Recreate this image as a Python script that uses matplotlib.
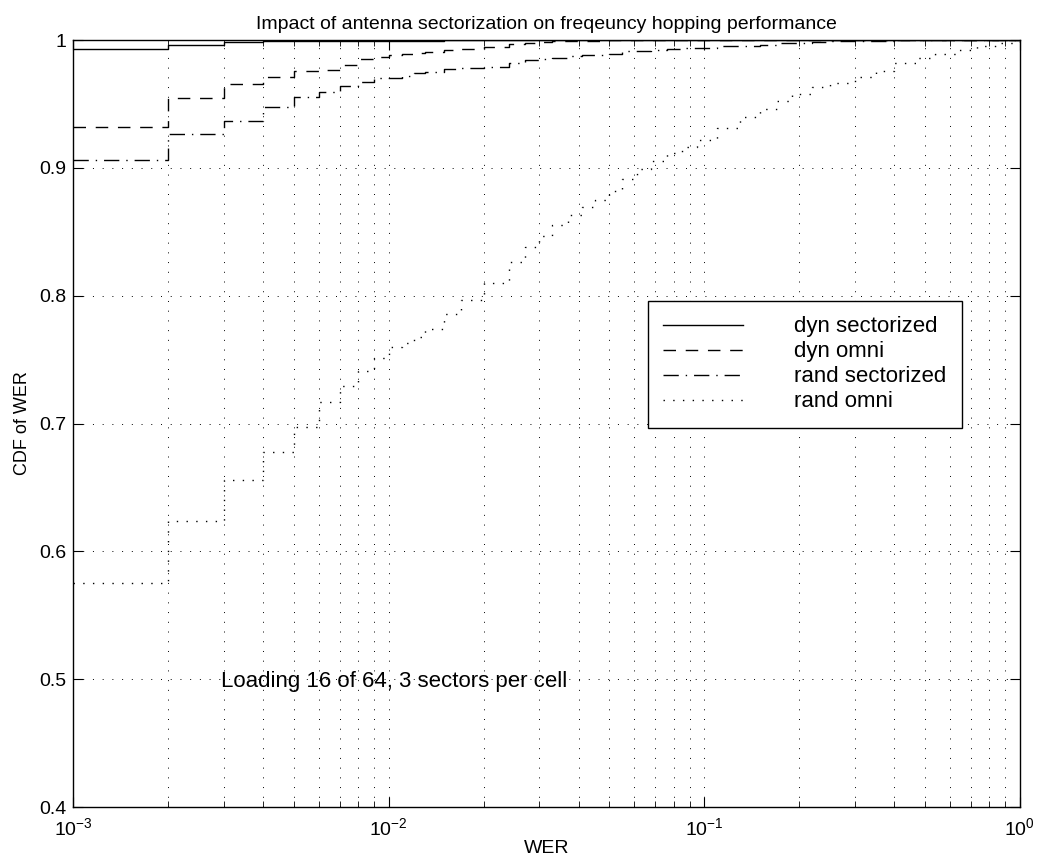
import math
import matplotlib
matplotlib.use('Agg')
import matplotlib.pyplot as plt
from matplotlib.ticker import LogLocator, FixedLocator, FuncFormatter, NullFormatter

plt.rcParams['font.family'] = ['Liberation Sans', 'DejaVu Sans']
plt.rcParams['mathtext.default'] = 'regular'

# WER grid where the CDF values were read
wer = [0.001, 0.002, 0.003, 0.004, 0.005, 0.006, 0.007, 0.008, 0.009,
       0.010, 0.011, 0.012, 0.013, 0.015, 0.017, 0.020, 0.024, 0.027, 0.030,
       0.033, 0.037, 0.041, 0.045, 0.050, 0.055, 0.061, 0.068, 0.076, 0.085,
       0.095, 0.11, 0.13, 0.15, 0.17, 0.19, 0.22, 0.25, 0.30, 0.35,
       0.40, 0.47, 0.54, 0.64, 0.73, 0.85, 1.0]

dyn_sect = [0.993, 0.9965, 0.9985, 0.999, 0.999, 0.9993, 0.9993, 0.9993, 0.9993,
            0.9995, 0.9995, 0.9996, 0.9996, 0.9997, 0.9997, 0.9998, 0.9999, 0.9999, 1.0,
            1.0, 1.0, 1.0, 1.0, 1.0, 1.0, 1.0, 1.0, 1.0, 1.0,
            1.0, 1.0, 1.0, 1.0, 1.0, 1.0, 1.0, 1.0, 1.0, 1.0,
            1.0, 1.0, 1.0, 1.0, 1.0, 1.0, 1.0]

dyn_omni = [0.932, 0.955, 0.9655, 0.971, 0.9757, 0.9765, 0.9805, 0.985, 0.987,
            0.988, 0.989, 0.990, 0.9905, 0.992, 0.993, 0.9947, 0.997, 0.9975, 0.9987,
            0.999, 0.9993, 0.9995, 0.9996, 0.9997, 0.9997, 0.9998, 0.9998, 0.9998, 0.9999,
            0.9999, 0.9999, 1.0, 1.0, 1.0, 1.0, 1.0, 1.0, 1.0, 1.0,
            1.0, 1.0, 1.0, 1.0, 1.0, 1.0, 1.0]

rand_sect = [0.906, 0.9265, 0.9365, 0.9477, 0.9552, 0.9592, 0.964, 0.9672, 0.970,
             0.970, 0.972, 0.974, 0.975, 0.977, 0.978, 0.979, 0.9824, 0.984, 0.985,
             0.986, 0.9872, 0.988, 0.9885, 0.989, 0.9912, 0.9915, 0.9925, 0.993, 0.9939,
             0.994, 0.995, 0.9955, 0.996, 0.9973, 0.998, 0.9985, 0.999, 0.9993, 0.9995,
             0.9997, 0.9998, 0.9998, 0.9999, 0.9999, 1.0, 1.0]

rand_omni = [0.575, 0.624, 0.656, 0.678, 0.697, 0.717, 0.729, 0.741, 0.751,
             0.760, 0.763, 0.768, 0.774, 0.786, 0.797, 0.810, 0.826, 0.838, 0.847,
             0.855, 0.863, 0.869, 0.875, 0.882, 0.891, 0.899, 0.905, 0.912, 0.916,
             0.922, 0.931, 0.940, 0.946, 0.952, 0.958, 0.963, 0.966, 0.971, 0.976,
             0.982, 0.986, 0.989, 0.992, 0.995, 0.998, 1.0]

labels = ['dyn sectorized', 'dyn omni', 'rand sectorized', 'rand omni']

fig = plt.figure(figsize=(10.46, 8.61), dpi=100)
ax = fig.add_axes([0.070, 0.0627, 0.905, 0.8908])

lw = 1.0
ax.step(wer, dyn_sect, where='post', color='k', lw=lw, ls='-', label=labels[0])
ax.step(wer, dyn_omni, where='post', color='k', lw=lw, ls=(0, (9, 7)), label=labels[1])
ax.step(wer, rand_sect, where='post', color='k', lw=lw, ls=(0, (11, 5, 1, 5)), label=labels[2])
ax.step(wer, rand_omni, where='post', color='k', lw=lw, ls=(0, (1, 6)), label=labels[3])

ax.set_xscale('log')
ax.set_xlim(1e-3, 1)
ax.set_ylim(0.4, 1)

ax.xaxis.set_major_locator(LogLocator(base=10, numticks=10))
ax.xaxis.set_minor_locator(LogLocator(base=10, subs=range(2, 10), numticks=20))
ax.xaxis.set_minor_formatter(NullFormatter())
ax.xaxis.set_major_formatter(FuncFormatter(lambda v, p: '$10^{%d}$' % round(math.log10(v))))
ax.yaxis.set_major_locator(FixedLocator([0.4, 0.5, 0.6, 0.7, 0.8, 0.9, 1.0]))
ax.yaxis.set_major_formatter(FuncFormatter(lambda v, p: '%g' % round(v, 1)))

ax.grid(True, which='major', color='k', ls=(0, (1, 9)), lw=0.7)
ax.grid(True, which='minor', axis='x', color='k', ls=(0, (1, 9)), lw=0.7)

ax.tick_params(which='both', direction='in', top=True, right=True, labelsize=14)
ax.tick_params(axis='x', pad=7)
ax.tick_params(axis='y', pad=5)
ax.tick_params(which='major', length=7)
ax.tick_params(which='minor', length=4)
for s in ax.spines.values():
    s.set_linewidth(1.0)

ax.set_title('Impact of antenna sectorization on freqeuncy hopping performance', fontsize=14, pad=8)
ax.set_xlabel('WER', fontsize=14, labelpad=1)
ax.set_ylabel('CDF of WER', fontsize=13, labelpad=6)

ax.text(0.00295, 0.498, 'Loading 16 of 64, 3 sectors per cell', fontsize=16, va='center')

leg = ax.legend(loc='upper left', bbox_to_anchor=(0.607, 0.660), fontsize=16,
                handlelength=3.6, handletextpad=2.3, fancybox=False, edgecolor='k',
                framealpha=1, borderpad=0.7, labelspacing=0.18, borderaxespad=0)
leg.get_frame().set_linewidth(1.0)

fig.savefig('out.png', dpi=100)
